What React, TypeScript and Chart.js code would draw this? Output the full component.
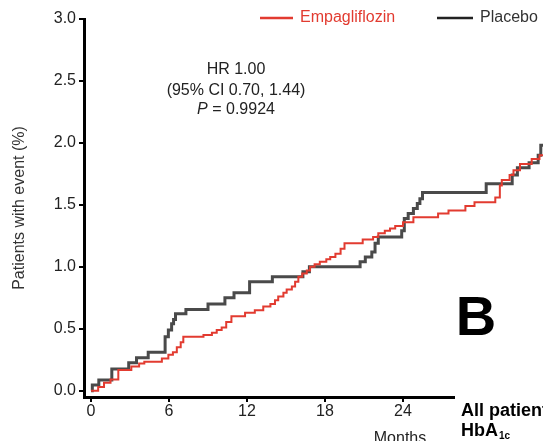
import React, { useEffect, useRef } from 'react';
import { Chart, registerables } from 'chart.js';

Chart.register(...registerables);

// ---- Data (months, % patients with event) ----
const empaMonths = [0, 0.55, 1.0, 1.5, 2.1, 3.1, 3.7, 4.1, 5.45, 5.95, 6.3, 6.6, 6.9, 7.1, 8.65, 9.3, 9.67, 10.05, 10.4, 10.8, 11.85, 12.6, 13.25, 13.8, 14.15, 14.4, 14.8, 15.05, 15.45, 15.7, 15.95, 16.25, 16.6, 16.85, 17.2, 17.6, 18.1, 18.4, 18.8, 19.2, 19.5, 20.9, 21.7, 22.1, 22.6, 23.0, 23.4, 24.0, 24.8, 26.7, 27.5, 28.8, 29.5, 31.1, 31.45, 31.6, 32.2, 32.5, 33.0, 33.9, 34.5, 34.8];
const empaValues = [0, 0.03, 0.065, 0.09, 0.167, 0.195, 0.22, 0.233, 0.26, 0.29, 0.31, 0.35, 0.39, 0.435, 0.45, 0.467, 0.49, 0.51, 0.555, 0.6, 0.63, 0.65, 0.68, 0.7, 0.73, 0.76, 0.79, 0.816, 0.84, 0.88, 0.92, 0.945, 0.97, 1.0, 1.02, 1.04, 1.06, 1.08, 1.105, 1.146, 1.19, 1.22, 1.24, 1.27, 1.29, 1.31, 1.33, 1.36, 1.4, 1.43, 1.455, 1.49, 1.52, 1.56, 1.656, 1.7, 1.74, 1.78, 1.83, 1.87, 1.9, 1.9];

const placeboMonths = [0, 0.1, 0.6, 1.6, 2.9, 3.5, 4.4, 5.7, 5.95, 6.2, 6.35, 6.5, 7.3, 9.0, 10.3, 11.0, 12.2, 13.95, 16.3, 16.8, 20.7, 21.1, 21.6, 21.85, 22.1, 23.9, 24.1, 24.4, 24.8, 25.1, 25.3, 25.5, 30.4, 32.4, 32.8, 33.7, 34.4, 34.6, 34.8];
const placeboValues = [0, 0.045, 0.086, 0.175, 0.226, 0.266, 0.31, 0.435, 0.49, 0.54, 0.575, 0.62, 0.655, 0.7, 0.75, 0.79, 0.88, 0.92, 0.96, 1.0, 1.04, 1.08, 1.12, 1.19, 1.24, 1.29, 1.39, 1.43, 1.47, 1.51, 1.55, 1.6, 1.67, 1.74, 1.8, 1.84, 1.9, 1.98, 1.98];

const seriesNames = ['Empagliflozin', 'Placebo'];
const xTicks = [0, 6, 12, 18, 24, 30];
const yTicks = [0, 0.5, 1.0, 1.5, 2.0, 2.5, 3.0];
const yTitle = 'Patients with event (%)';
const xTitle = 'Months';
const statHR = 'HR 1.00';
const statCI = '(95% CI 0.70, 1.44)';
const statP = ['P', ' = 0.9924'];
const panelLetter = 'B';
const sideTitle = 'All patients';
const sideSub = ['HbA', '1c'];

const FONT = '"Liberation Sans", Arial, Helvetica, sans-serif';
const RED = '#e23b30';
const GRAY = '#4a4a4a';

const toPoints = (xs: number[], ys: number[]) => xs.map((x, i) => ({ x, y: ys[i] }));

const overlayPlugin = {
  id: 'overlay',
  afterDraw(chart: any) {
    const ctx: CanvasRenderingContext2D = chart.ctx;
    ctx.save();
    // white panel covering the axis at the right (neighbouring panel)
    ctx.fillStyle = '#ffffff';
    ctx.fillRect(455, 391, 120, 60);

    // legend
    ctx.lineWidth = 2.5;
    ctx.strokeStyle = RED;
    ctx.beginPath();
    ctx.moveTo(260, 18);
    ctx.lineTo(293, 18);
    ctx.stroke();
    ctx.strokeStyle = '#222';
    ctx.beginPath();
    ctx.moveTo(437, 18);
    ctx.lineTo(473, 18);
    ctx.stroke();
    ctx.font = `16px ${FONT}`;
    ctx.textBaseline = 'middle';
    ctx.textAlign = 'left';
    ctx.fillStyle = RED;
    ctx.fillText(seriesNames[0], 300, 18);
    ctx.fillStyle = '#333';
    ctx.fillText(seriesNames[1], 480, 18);

    // statistics annotation
    const cx = 236;
    ctx.fillStyle = '#222';
    ctx.textAlign = 'center';
    ctx.fillText(statHR, cx, 70);
    ctx.fillText(statCI, cx, 90.5);
    ctx.font = `italic 16px ${FONT}`;
    const wP = ctx.measureText(statP[0]).width;
    ctx.font = `16px ${FONT}`;
    const wRest = ctx.measureText(statP[1]).width;
    const startX = cx - (wP + wRest) / 2;
    ctx.textAlign = 'left';
    ctx.font = `italic 16px ${FONT}`;
    ctx.fillText(statP[0], startX, 110);
    ctx.font = `16px ${FONT}`;
    ctx.fillText(statP[1], startX + wP, 110);

    // panel letter
    ctx.fillStyle = '#000';
    ctx.textAlign = 'center';
    ctx.textBaseline = 'alphabetic';
    ctx.font = `bold 56px ${FONT}`;
    ctx.fillText(panelLetter, 476, 335);

    // neighbouring panel title
    ctx.textAlign = 'left';
    ctx.font = `bold 18px ${FONT}`;
    ctx.fillText(sideTitle, 461, 416);
    ctx.fillText(sideSub[0], 461, 436);
    const wH = ctx.measureText(sideSub[0]).width;
    ctx.font = `bold 10px ${FONT}`;
    ctx.fillText(sideSub[1], 461 + wH + 1, 439);

    // x axis title
    ctx.font = `16px ${FONT}`;
    ctx.fillStyle = '#222';
    ctx.textAlign = 'center';
    ctx.fillText(xTitle, 400, 443);
    ctx.restore();
  },
};

export default function App() {
  const canvasRef = useRef<HTMLCanvasElement | null>(null);

  useEffect(() => {
    const canvas = canvasRef.current;
    if (!canvas) return;
    const chart = new Chart(canvas, {
      type: 'line',
      data: {
        datasets: [
          {
            label: seriesNames[0],
            data: toPoints(empaMonths, empaValues),
            borderColor: RED,
            borderWidth: 2,
            stepped: 'before',
            pointRadius: 0,
            fill: false,
          },
          {
            label: seriesNames[1],
            data: toPoints(placeboMonths, placeboValues),
            borderColor: GRAY,
            borderWidth: 3,
            stepped: 'before',
            pointRadius: 0,
            fill: false,
          },
        ],
      },
      options: {
        responsive: false,
        animation: false,
        devicePixelRatio: 1,
        layout: { padding: { top: 19, right: 0, left: 0, bottom: 0 } },
        plugins: {
          legend: { display: false },
          tooltip: { enabled: false },
        },
        scales: {
          x: {
            type: 'linear',
            min: -0.54,
            max: 34.77,
            afterBuildTicks: (scale: any) => {
              scale.ticks = xTicks.map((v) => ({ value: v }));
            },
            afterFit: (scale: any) => {
              scale.height = 44;
            },
            border: { color: '#000', width: 3 },
            grid: { drawOnChartArea: false, drawTicks: true, tickLength: 5, color: '#000', lineWidth: 2 },
            ticks: {
              color: '#222',
              font: { family: FONT, size: 16 },
              padding: 0,
              maxRotation: 0,
              autoSkip: false,
              callback: (v: any) => String(v),
            },
          },
          y: {
            type: 'linear',
            min: -0.051,
            max: 3.0,
            afterBuildTicks: (scale: any) => {
              scale.ticks = yTicks.map((v) => ({ value: v }));
            },
            afterFit: (scale: any) => {
              scale.width = 84;
            },
            border: { color: '#000', width: 3 },
            grid: { drawOnChartArea: false, drawTicks: true, tickLength: 5, color: '#000', lineWidth: 2 },
            title: {
              display: true,
              text: yTitle,
              color: '#333',
              font: { family: FONT, size: 16 },
              padding: { top: 10, bottom: 0 },
            },
            ticks: {
              color: '#222',
              font: { family: FONT, size: 16 },
              padding: 3,
              autoSkip: false,
              callback: (v: any) => Number(v).toFixed(1),
            },
          },
        },
      },
      plugins: [overlayPlugin],
    });
    return () => chart.destroy();
  }, []);

  return (
    <div style={{ position: 'absolute', left: 0, top: 0, width: 543, height: 441, background: '#fff', overflow: 'hidden' }}>
      <canvas ref={canvasRef} width={543} height={441} style={{ display: 'block' }} />
    </div>
  );
}
